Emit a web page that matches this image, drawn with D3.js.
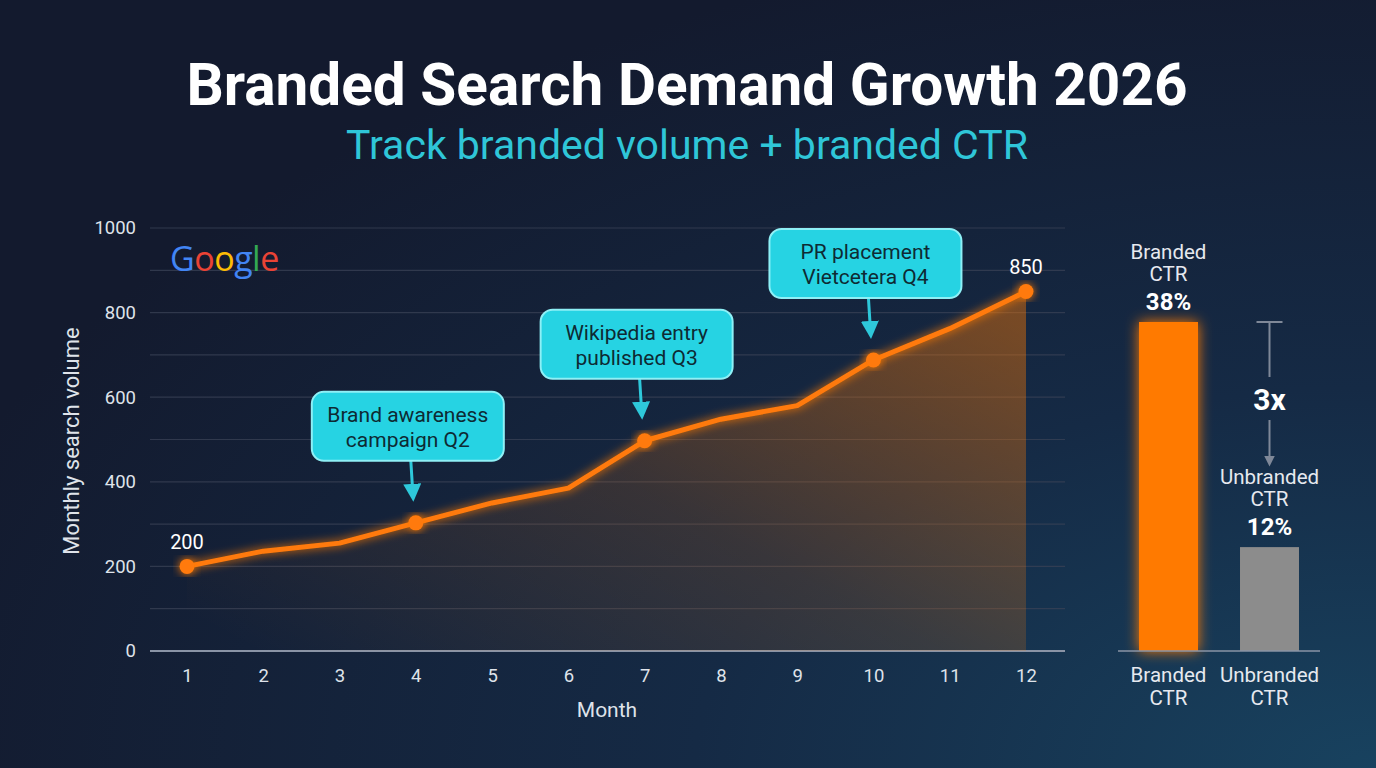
<!DOCTYPE html>
<html><head><meta charset="utf-8">
<script src="https://cdn.jsdelivr.net/npm/d3@7"></script>
<style>html,body{margin:0;padding:0;background:#141a2e;}svg{display:block;font-family:Roboto,"Noto Sans",sans-serif;}</style>
</head><body>
<svg id="chart" width="1376" height="768"></svg>
<script>
// ---- data ----
const months = [1,2,3,4,5,6,7,8,9,10,11,12];
const volume = [200,236,255,303,350,385,497,548,580,688,762,850];
const yTicks = [0,200,400,600,800,1000];
const markedMonths = [1,4,7,10,12];
const valueLabels = [{m:1, text:"200"},{m:12, text:"850"}];
const annotations = [
  {m:4, lines:["Brand awareness","campaign Q2"]},
  {m:7, lines:["Wikipedia entry","published Q3"]},
  {m:10, lines:["PR placement","Vietcetera Q4"]}
];
const ctrCats = ["Branded CTR","Unbranded CTR"];
const ctrValues = [38,12];
const ctrTopLabels = [["Branded","CTR"],["Unbranded","CTR"]];
const ctrColors = ["#ff7a00","#8c8c8c"];

const svg = d3.select("#chart");
const W = 1376, H = 768;
const defs = svg.append("defs");

// background
const bg = defs.append("radialGradient").attr("id","bg").attr("cx","1").attr("cy","1").attr("r","1.1");
bg.append("stop").attr("offset","0").attr("stop-color","#18425f");
bg.append("stop").attr("offset","0.45").attr("stop-color","#152a45");
bg.append("stop").attr("offset","1").attr("stop-color","#131a2e");
svg.append("rect").attr("width",W).attr("height",H).attr("fill","url(#bg)");

// glow filters
function makeGlow(id, sd){
  const f = defs.append("filter").attr("id",id).attr("x","-40%").attr("y","-20%").attr("width","180%").attr("height","140%");
  f.append("feGaussianBlur").attr("in","SourceGraphic").attr("stdDeviation",sd).attr("result","b");
  const m = f.append("feMerge");
  m.append("feMergeNode").attr("in","b");
  m.append("feMergeNode").attr("in","SourceGraphic");
}
makeGlow("glow",5);
makeGlow("glow2",7);

// area gradient
const ag = defs.append("linearGradient").attr("id","area").attr("x1","0").attr("y1","0.9").attr("x2","1").attr("y2","0.1");
ag.append("stop").attr("offset","0").attr("stop-color","#ff7a00").attr("stop-opacity",0.0);
ag.append("stop").attr("offset","0.5").attr("stop-color","#ff7a00").attr("stop-opacity",0.15);
ag.append("stop").attr("offset","1").attr("stop-color","#ff7a00").attr("stop-opacity",0.42);

// titles
svg.append("text").attr("x",687).attr("y",105).attr("text-anchor","middle")
  .attr("fill","#ffffff").attr("font-weight",700).attr("font-size",58.5)
  .text("Branded Search Demand Growth 2026");
svg.append("text").attr("x",687).attr("y",159).attr("text-anchor","middle")
  .attr("fill","#2fc6d8").attr("font-size",41)
  .text("Track branded volume + branded CTR");

// ---- line chart ----
const x = d3.scaleLinear().domain([1,12]).range([187,1026]);
const y = d3.scaleLinear().domain([0,1000]).range([651,228]);

// gridlines
svg.append("g").selectAll("line").data(d3.range(100,1001,100)).join("line")
  .attr("x1",150).attr("x2",1065).attr("y1",d=>y(d)).attr("y2",d=>y(d))
  .attr("stroke","#3a4256").attr("stroke-width",1.2).attr("opacity",0.75);

// y axis labels
const yAxis = d3.axisLeft(y).tickValues(yTicks).tickSize(0).tickPadding(0).tickFormat(d3.format("d"));
const yg = svg.append("g").attr("transform","translate(136,0)").call(yAxis);
yg.select(".domain").remove();
yg.selectAll("text").attr("fill","#dfe3ea").attr("font-size",18.5).attr("font-family","Roboto");

// x axis
const xAxis = d3.axisBottom(x).tickValues(months).tickSize(0).tickPadding(18).tickFormat(d3.format("d"));
const xg = svg.append("g").attr("transform","translate(0,651)").call(xAxis);
xg.select(".domain").remove();
xg.selectAll("text").attr("fill","#dfe3ea").attr("font-size",18.5).attr("font-family","Roboto");
svg.append("line").attr("x1",150).attr("x2",1065).attr("y1",651).attr("y2",651).attr("stroke","#8a94a6").attr("stroke-width",2);

// axis titles
svg.append("text").attr("x",607).attr("y",717).attr("text-anchor","middle").attr("fill","#dfe3ea").attr("font-size",21).text("Month");
svg.append("text").attr("transform","translate(79,441) rotate(-90)").attr("text-anchor","middle").attr("fill","#dfe3ea").attr("font-size",22).text("Monthly search volume");

// Google logo
const gl = svg.append("text").attr("x",170).attr("y",271).attr("font-size",34).attr("font-family","'Open Sans',Roboto,sans-serif").attr("font-weight",500).attr("letter-spacing",-0.5);
[["G","#4285F4"],["o","#EA4335"],["o","#FBBC05"],["g","#4285F4"],["l","#34A853"],["e","#EA4335"]].forEach(([c,col])=>gl.append("tspan").attr("fill",col).text(c));

// area
const pts = months.map((m,i)=>({m, v:volume[i]}));
const area = d3.area().x(d=>x(d.m)).y0(y(0)).y1(d=>y(d.v));
svg.append("path").datum(pts).attr("d",area).attr("fill","url(#area)");

// line
const line = d3.line().x(d=>x(d.m)).y(d=>y(d.v));
svg.append("path").datum(pts).attr("d",line).attr("fill","none").attr("stroke","#ff7a0a")
  .attr("stroke-width",5).attr("stroke-linejoin","round").attr("filter","url(#glow)");

// markers
svg.selectAll("circle.mk").data(pts.filter(d=>markedMonths.includes(d.m))).join("circle")
  .attr("cx",d=>x(d.m)).attr("cy",d=>y(d.v)).attr("r",7.5).attr("fill","#ff7a0a").attr("filter","url(#glow)");

// value labels
svg.selectAll("text.vl").data(valueLabels).join("text")
  .attr("x",d=>x(d.m)).attr("y",d=>y(volume[d.m-1])-17).attr("text-anchor","middle")
  .attr("fill","#ffffff").attr("font-size",20).text(d=>d.text);

// annotations
defs.append("marker").attr("id","arrC").attr("viewBox","0 0 10 10").attr("refX",5).attr("refY",5)
  .attr("markerWidth",6).attr("markerHeight",6).attr("markerUnits","strokeWidth").attr("orient","auto")
  .append("path").attr("d","M0,0 L10,5 L0,10 z").attr("fill","#2ec8da");
annotations.forEach(a=>{
  const mx = x(a.m), my = y(volume[a.m-1]);
  const bw = 192, bh = 69, bx = mx - 8 - bw/2, by = my - 131;
  svg.append("line").attr("x1",mx-5).attr("y1",by+bh).attr("x2",mx-3).attr("y2",my-30)
    .attr("stroke","#2ec8da").attr("stroke-width",3).attr("marker-end","url(#arrC)");
  svg.append("rect").attr("x",bx).attr("y",by).attr("width",bw).attr("height",bh).attr("rx",12)
    .attr("fill","#26d3e3").attr("stroke","#8ef0f6").attr("stroke-width",2);
  a.lines.forEach((t,i)=>svg.append("text").attr("x",bx+bw/2).attr("y",by+30+i*25).attr("text-anchor","middle")
    .attr("fill","#0e2a33").attr("font-size",21).text(t));
});

// ---- CTR bars ----
const xb = d3.scaleBand().domain(ctrCats).range([1118,1320]).paddingInner(0.416).paddingOuter(0.208);
const yb = d3.scaleLinear().domain([0,38]).range([651,322]);
svg.selectAll("rect.bar").data(ctrCats).join("rect")
  .attr("x",d=>xb(d)).attr("width",xb.bandwidth())
  .attr("y",(d,i)=>yb(ctrValues[i])).attr("height",(d,i)=>651-yb(ctrValues[i]))
  .attr("fill",(d,i)=>ctrColors[i]).attr("filter",(d,i)=>i===0?"url(#glow2)":null);
svg.append("line").attr("x1",1118).attr("x2",1320).attr("y1",651).attr("y2",651).attr("stroke","#8a94a6").attr("stroke-width",1.5);

ctrCats.forEach((c,i)=>{
  const cx = xb(c)+xb.bandwidth()/2, top = yb(ctrValues[i]);
  svg.append("text").attr("x",cx).attr("y",top-63).attr("text-anchor","middle").attr("fill","#e6e9ef").attr("font-size",20.5).text(ctrTopLabels[i][0]);
  svg.append("text").attr("x",cx).attr("y",top-41).attr("text-anchor","middle").attr("fill","#e6e9ef").attr("font-size",20.5).text(ctrTopLabels[i][1]);
  svg.append("text").attr("x",cx).attr("y",top-12).attr("text-anchor","middle").attr("fill","#ffffff").attr("font-size",24).attr("font-weight",700).text(ctrValues[i]+"%");
  const parts = c.split(" ");
  svg.append("text").attr("x",cx).attr("y",682).attr("text-anchor","middle").attr("fill","#e6e9ef").attr("font-size",20.5).text(parts[0]);
  svg.append("text").attr("x",cx).attr("y",705).attr("text-anchor","middle").attr("fill","#e6e9ef").attr("font-size",20.5).text(parts[1]);
});

// 3x bracket
const bxm = xb(ctrCats[1]) + xb.bandwidth()/2;
const yTop = yb(ctrValues[0]);
defs.append("marker").attr("id","arrG").attr("viewBox","0 0 10 10").attr("refX",5).attr("refY",5)
  .attr("markerWidth",5.5).attr("markerHeight",5.5).attr("orient","auto")
  .append("path").attr("d","M0,0 L10,5 L0,10 z").attr("fill","#7f8898");
svg.append("line").attr("x1",bxm-13).attr("x2",bxm+13).attr("y1",yTop).attr("y2",yTop).attr("stroke","#7f8898").attr("stroke-width",2);
svg.append("line").attr("x1",bxm).attr("x2",bxm).attr("y1",yTop).attr("y2",yTop+55).attr("stroke","#7f8898").attr("stroke-width",2);
svg.append("text").attr("x",bxm).attr("y",yTop+88).attr("text-anchor","middle").attr("fill","#ffffff").attr("font-size",30).attr("font-weight",700).text("3x");
svg.append("line").attr("x1",bxm).attr("x2",bxm).attr("y1",yTop+98).attr("y2",yTop+139).attr("stroke","#7f8898").attr("stroke-width",2).attr("marker-end","url(#arrG)");
</script>
</body></html>
